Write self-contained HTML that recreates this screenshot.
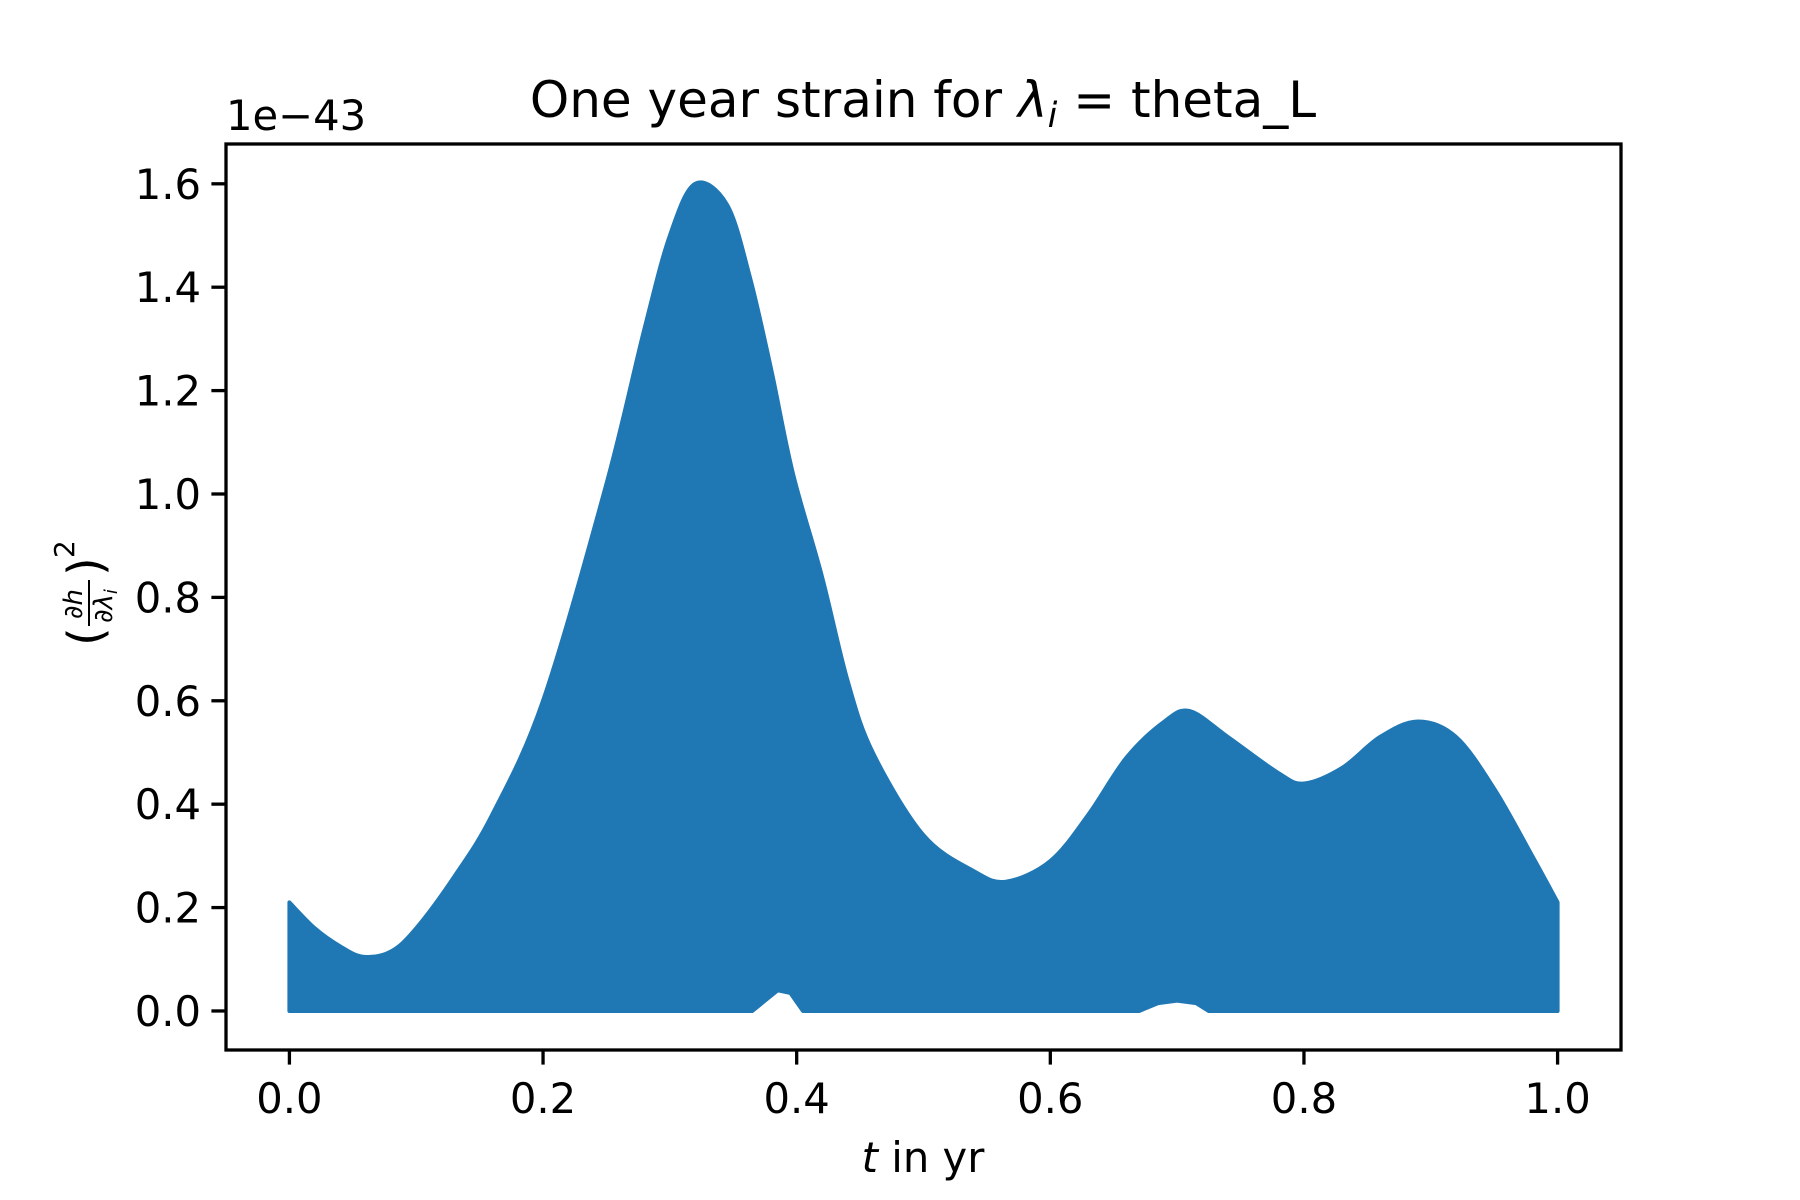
<!DOCTYPE html>
<html><head><meta charset="utf-8"><style>
body{margin:0;background:#fff}
svg{display:block;font-family:"DejaVu Sans","Liberation Sans",sans-serif}
</style></head><body>
<svg id="chart" width="1800" height="1200" viewBox="0 0 1800 1200">
<g id="plot"></g>
<g id="axes"></g>
<text x="923" y="117" font-size="50" text-anchor="middle">One year strain for <tspan font-style="italic">λ</tspan><tspan font-size="35" dy="10" font-style="italic">i</tspan><tspan dy="-10"> = theta_L</tspan></text>
<text x="226" y="130" font-size="41.7">1e−43</text>
<text x="923" y="1172" font-size="41.7" text-anchor="middle"><tspan font-style="italic">t</tspan> in yr</text>
<g transform="translate(88,594) rotate(-90)">
<text x="-52" y="14" font-size="48">(</text>
<text x="-10" y="-6" font-size="26" text-anchor="middle">∂<tspan font-style="italic">h</tspan></text>
<line x1="-32" y1="1" x2="14" y2="1" stroke="#000" stroke-width="2"/>
<text x="-12" y="24" font-size="26" text-anchor="middle">∂<tspan font-style="italic">λ</tspan><tspan font-size="18" font-style="italic" dy="5">i</tspan></text>
<text x="18" y="14" font-size="48">)</text>
<text x="36" y="-14" font-size="28">2</text>
</g>
</svg>
<script>
const tVals=[0,0.02,0.04,0.058,0.08,0.1,0.13,0.16,0.2,0.25,0.28,0.3,0.32,0.345,0.363,0.38,0.397,0.42,0.44,0.46,0.5,0.54,0.565,0.6,0.63,0.66,0.69,0.71,0.74,0.78,0.8,0.83,0.86,0.89,0.92,0.95,0.98,1.0];
const upper=[0.21,0.16,0.125,0.105,0.115,0.16,0.26,0.38,0.6,1.02,1.32,1.5,1.6,1.56,1.42,1.24,1.04,0.84,0.64,0.5,0.34,0.27,0.25,0.29,0.38,0.49,0.56,0.58,0.53,0.46,0.44,0.47,0.53,0.56,0.53,0.43,0.3,0.21];
const lowT=[0,0.365,0.375,0.385,0.395,0.405,0.67,0.685,0.7,0.715,0.725,1.0];
const lower=[0,0,0.02,0.04,0.035,0,0,0.015,0.02,0.015,0,0];
const xTicks=[0,0.2,0.4,0.6,0.8,1.0];
const xTickLabels=["0.0","0.2","0.4","0.6","0.8","1.0"];
const yTicks=[0,0.2,0.4,0.6,0.8,1.0,1.2,1.4,1.6];
const yTickLabels=["0.0","0.2","0.4","0.6","0.8","1.0","1.2","1.4","1.6"];
const L=226,R=1621,T=144,B=1050;
const X=v=>L+(v+0.05)/1.1*(R-L);
const Y=v=>B-(v+0.0755)/1.7525*(B-T);
const NS="http://www.w3.org/2000/svg";
const plot=document.getElementById('plot'),axes=document.getElementById('axes');
function smooth(pts){
 let s="";
 for(let i=0;i<pts.length-1;i++){
  const p0=pts[Math.max(0,i-1)],p1=pts[i],p2=pts[i+1],p3=pts[Math.min(pts.length-1,i+2)];
  const c1=[p1[0]+(p2[0]-p0[0])/6,p1[1]+(p2[1]-p0[1])/6];
  const c2=[p2[0]-(p3[0]-p1[0])/6,p2[1]-(p3[1]-p1[1])/6];
  s+=" C"+c1.map(n=>n.toFixed(1)).join(",")+" "+c2.map(n=>n.toFixed(1)).join(",")+" "+p2.map(n=>n.toFixed(1)).join(",");
 }
 return s;
}
const up=tVals.map((t,i)=>[X(t),Y(upper[i])]);
const lo=lowT.map((t,i)=>[X(t),Y(lower[i])]).reverse();
let d="M"+up[0].join(",")+smooth(up)+lo.map(q=>" L"+q[0].toFixed(1)+","+q[1].toFixed(1)).join("")+"Z";
const p=document.createElementNS(NS,'path');
p.setAttribute('d',d);p.setAttribute('fill','#1f77b4');p.setAttribute('stroke','#1f77b4');p.setAttribute('stroke-width','4');p.setAttribute('stroke-linejoin','round');


plot.appendChild(p);
const fr=document.createElementNS(NS,'rect');
fr.setAttribute('x',L);fr.setAttribute('y',T);fr.setAttribute('width',R-L);fr.setAttribute('height',B-T);fr.setAttribute('fill','none');fr.setAttribute('stroke','#000');fr.setAttribute('stroke-width','3.3');


axes.appendChild(fr);
xTicks.forEach((v,i)=>{
 const l=document.createElementNS(NS,'line');
 l.setAttribute('x1',X(v));l.setAttribute('x2',X(v));l.setAttribute('y1',B);l.setAttribute('y2',B+14.6);l.setAttribute('stroke','#000');l.setAttribute('stroke-width','3.3');
 
 
 axes.appendChild(l);
 const t=document.createElementNS(NS,'text');
 t.setAttribute('x',X(v));t.setAttribute('y',B+63);t.setAttribute('font-size','41.7');t.setAttribute('text-anchor','middle');t.textContent=xTickLabels[i];
 
 
 axes.appendChild(t);
});
yTicks.forEach((v,i)=>{
 const l=document.createElementNS(NS,'line');
 l.setAttribute('x1',L-14.6);l.setAttribute('x2',L);l.setAttribute('y1',Y(v));l.setAttribute('y2',Y(v));l.setAttribute('stroke','#000');l.setAttribute('stroke-width','3.3');
 
 
 axes.appendChild(l);
 const t=document.createElementNS(NS,'text');
 t.setAttribute('x',L-25);t.setAttribute('y',Y(v)+15);t.setAttribute('font-size','41.7');t.setAttribute('text-anchor','end');t.textContent=yTickLabels[i];
 
 
 axes.appendChild(t);
});
</script>
</body></html>
